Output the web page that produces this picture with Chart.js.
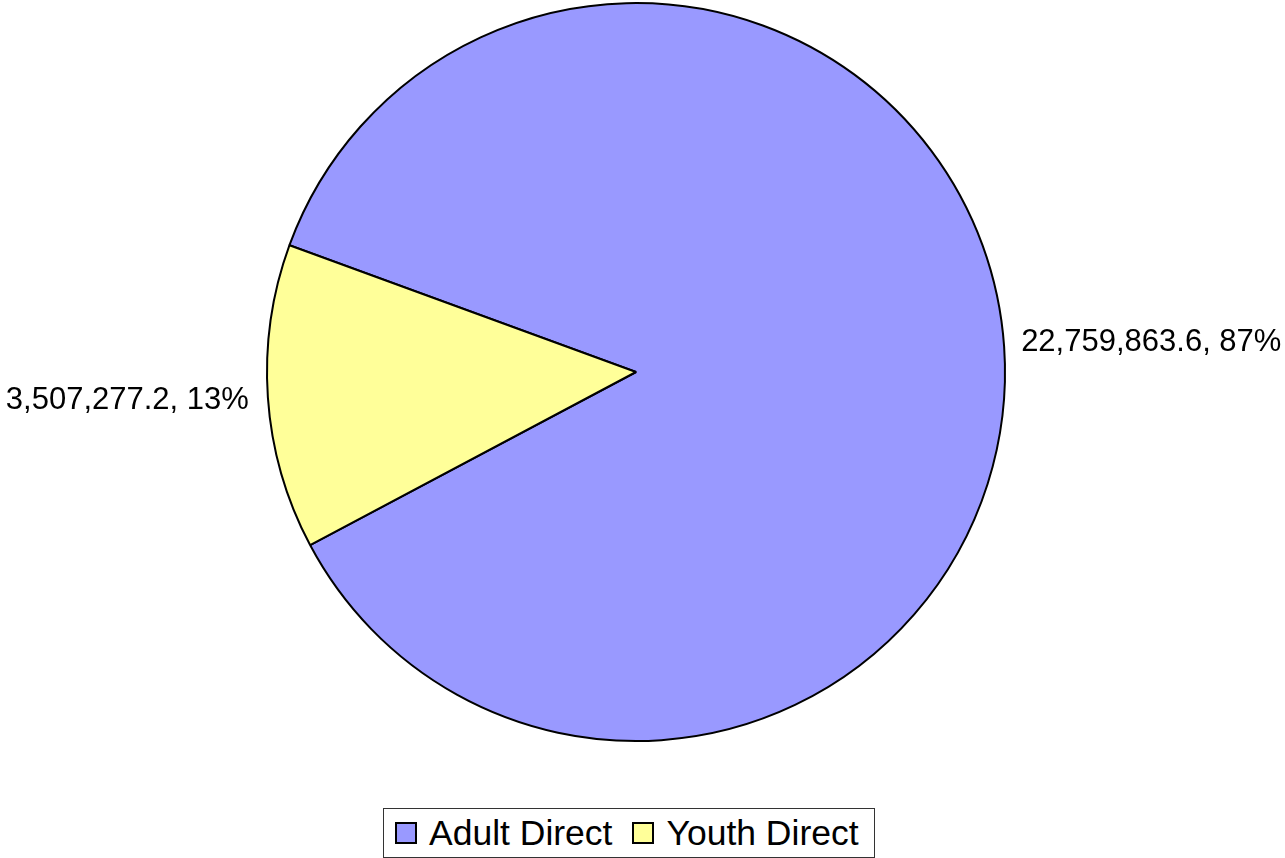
<!DOCTYPE html>
<html>
<head>
<meta charset="utf-8">
<title>Direct funding</title>
<script src="https://cdn.jsdelivr.net/npm/chart.js@4.4.1/dist/chart.umd.min.js"></script>
<style>
  html, body {
    margin: 0;
    padding: 0;
    background: #fff;
  }
  #wrap {
    position: relative;
    width: 1285px;
    height: 858px;
  }
  #pie {
    display: block;
  }
  #legend {
    position: absolute;
    left: 383px;
    top: 808px;
    width: 492px;
    height: 50px;
    box-sizing: border-box;
    border: 1px solid #333;
    background: #fff;
    display: flex;
    align-items: center;
    padding-left: 11px;
    font-family: 'Liberation Sans', Arial, sans-serif;
    font-size: 35.5px;
    color: #000;
    white-space: nowrap;
  }
  #legend .item {
    display: flex;
    align-items: center;
    flex-shrink: 0;
    margin-right: 20px;
  }
  #legend .swatch {
    flex-shrink: 0;
    width: 18px;
    height: 18px;
    border: 2px solid #000;
    margin-right: 12px;
  }
</style>
</head>
<body>
<div id="wrap">
  <canvas id="pie" width="1285" height="858"></canvas>
  <div id="legend"></div>
</div>
<script>
const categories = ['Adult Direct', 'Youth Direct'];
const amounts = [22759863.6, 3507277.2];
const sliceColors = ['#9999FF', '#FFFF99'];

const legendEl = document.getElementById('legend');

function formatAmount(value) {
  return value.toLocaleString('en-US', {
    minimumFractionDigits: 1,
    maximumFractionDigits: 1,
  });
}

function renderLegend() {
  legendEl.innerHTML = '';
  categories.forEach((name, i) => {
    const item = document.createElement('span');
    item.className = 'item';
    item.innerHTML = `<span class="swatch" style="background:${sliceColors[i]}"></span>${name}`;
    legendEl.appendChild(item);
  });
}

// value + share written just outside each slice
const sliceLabels = {
  id: 'sliceLabels',
  afterDatasetsDraw(chart) {
    const { ctx } = chart;
    const meta = chart.getDatasetMeta(0);
    const total = amounts.reduce((a, b) => a + b, 0);

    ctx.save();
    ctx.font = '31px "Liberation Sans", Arial, sans-serif';
    ctx.fillStyle = '#000';
    ctx.textBaseline = 'middle';

    meta.data.forEach((arc, i) => {
      const mid = (arc.startAngle + arc.endAngle) / 2;
      const px = arc.x + Math.cos(mid) * arc.outerRadius;
      const py = arc.y + Math.sin(mid) * arc.outerRadius;
      const right = Math.cos(mid) >= 0;
      const pct = Math.round((amounts[i] / total) * 100);
      const text = `${formatAmount(amounts[i])}, ${pct}%`;

      ctx.textAlign = right ? 'left' : 'right';
      ctx.fillText(text, right ? px + 17 : px - 19, right ? py - 4 : py + 3);
    });

    ctx.restore();
  },
};

const pieChart = new Chart(document.getElementById('pie'), {
  type: 'pie',
  data: {
    labels: categories,
    datasets: [
      {
        data: amounts,
        backgroundColor: sliceColors,
        borderColor: '#000',
        borderWidth: 2,
        borderAlign: 'center',
      },
    ],
  },
  options: {
    responsive: false,
    animation: false,
    rotation: 290.1,
    layout: {
      padding: { top: 2, bottom: 116, left: 0, right: 13 },
    },
    plugins: {
      legend: { display: false },
      tooltip: { enabled: false },
    },
  },
  plugins: [sliceLabels],
});

renderLegend();
</script>
</body>
</html>
